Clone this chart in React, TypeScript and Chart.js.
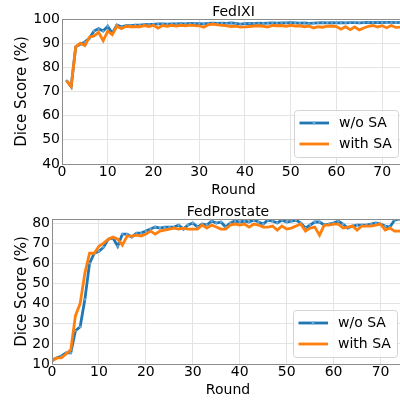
import React, { useEffect, useRef } from "react";
import { Chart, registerables } from "chart.js";

Chart.register(...registerables);
Chart.defaults.font.family = "'DejaVu Sans', sans-serif";

const ixiRounds = [
  1, 2, 3, 4, 5, 6, 7, 8, 9, 10, 11, 12, 13, 14, 15, 16, 17, 18, 19, 20,
  21, 22, 23, 24, 25, 26, 27, 28, 29, 30, 31, 32, 33, 34, 35, 36, 37, 38, 39, 40,
  41, 42, 43, 44, 45, 46, 47, 48, 49, 50, 51, 52, 53, 54, 55, 56, 57, 58, 59, 60,
  61, 62, 63, 64, 65, 66, 67, 68, 69, 70, 71, 72, 73, 74, 75,
];
const ixiWithoutSA = [
  74.5, 72.0, 88.5, 89.5, 90.5, 92.0, 95.0, 96.0, 95.0, 97.0,
  94.0, 97.5, 96.8, 97.3, 97.3, 97.5, 97.5, 97.7, 97.8, 97.8,
  98.0, 98.0, 97.9, 98.0, 98.0, 98.1, 98.0, 98.2, 98.1, 98.1,
  98.0, 98.2, 98.3, 98.2, 98.3, 98.2, 98.4, 98.2, 97.9, 98.1,
  98.2, 98.1, 98.3, 98.2, 98.3, 98.4, 98.3, 98.4, 98.4, 98.5,
  98.4, 98.3, 98.4, 98.2, 98.3, 98.4, 98.5, 98.4, 98.5, 98.4,
  98.5, 98.4, 98.5, 98.5, 98.4, 98.5, 98.6, 98.5, 98.6, 98.5,
  98.6, 98.6, 98.5, 98.6, 98.6,
];
const ixiWithSA = [
  74.5, 72.0, 88.5, 90.0, 89.0, 92.5, 93.0, 94.5, 91.0, 95.0,
  93.5, 97.0, 96.0, 97.0, 96.8, 96.9, 96.8, 97.3, 96.9, 97.4,
  96.2, 97.3, 97.0, 97.4, 97.1, 97.4, 97.2, 97.5, 97.3, 97.2,
  96.6, 97.6, 97.9, 97.6, 97.4, 97.2, 96.9, 97.0, 96.6, 96.7,
  96.9, 97.1, 97.2, 97.0, 96.7, 97.3, 97.2, 97.3, 97.0, 97.4,
  97.1, 97.2, 96.8, 97.1, 96.3, 96.8, 96.6, 97.0, 97.1, 96.9,
  95.8, 96.8, 95.6, 96.7, 95.5, 96.3, 97.0, 97.3, 96.7, 97.2,
  96.4, 97.3, 96.5, 96.6, 96.8,
];

const prostateRounds = [
  0, 1, 2, 3, 4, 5, 6, 7, 8, 9, 10, 11, 12, 13, 14, 15, 16, 17, 18, 19,
  20, 21, 22, 23, 24, 25, 26, 27, 28, 29, 30, 31, 32, 33, 34, 35, 36, 37, 38, 39,
  40, 41, 42, 43, 44, 45, 46, 47, 48, 49, 50, 51, 52, 53, 54, 55, 56, 57, 58, 59,
  60, 61, 62, 63, 64, 65, 66, 67, 68, 69, 70, 71, 72, 73, 74, 75,
];
const prostateWithoutSA = [
  12.0, 13.0, 14.0, 15.5, 15.5, 26.5, 28.5, 42.0, 60.0, 65.0,
  66.0, 68.0, 72.0, 72.5, 68.5, 74.5, 74.5, 73.0, 75.0, 75.0,
  76.0, 77.0, 78.0, 77.5, 78.0, 78.0, 78.0, 79.0, 77.0, 79.0,
  80.0, 78.0, 79.5, 79.0, 81.0, 80.0, 80.5, 78.0, 80.0, 81.0,
  80.5, 81.0, 80.5, 81.5, 80.5, 79.5, 81.5, 81.0, 80.0, 81.5,
  80.5, 81.0, 81.5, 80.0, 77.5, 79.0, 80.5, 80.5, 79.0, 79.5,
  80.0, 81.0, 79.5, 77.5, 78.5, 79.0, 79.0, 79.0, 79.5, 80.0,
  79.5, 78.5, 78.0, 81.5, 82.0, 82.0,
];
const prostateWithSA = [
  11.5, 13.0, 13.0, 15.0, 17.0, 34.0, 40.0, 55.0, 65.0, 65.0,
  68.5, 70.0, 72.0, 73.0, 72.0, 69.0, 73.5, 73.5, 74.0, 73.5,
  74.5, 76.0, 74.5, 76.0, 76.5, 77.0, 77.5, 77.0, 77.5, 77.0,
  77.0, 77.0, 79.0, 77.5, 79.0, 78.0, 77.0, 77.0, 79.0, 79.5,
  79.0, 79.5, 78.0, 79.5, 79.0, 78.0, 78.0, 78.5, 76.5, 78.5,
  77.0, 77.5, 78.5, 79.5, 76.0, 77.5, 78.0, 74.0, 79.0, 79.0,
  79.5, 79.5, 77.5, 78.0, 78.5, 76.5, 78.5, 78.5, 78.5, 79.0,
  79.5, 76.5, 77.5, 76.0, 76.0, 76.5,
];

const seriesLabels = ["w/o SA", "with SA"];
const seriesColors = ["#1f77b4", "#ff7f0e"];

const framePlugin = {
  id: "frame",
  afterDatasetsDraw(chart: any) {
    const { ctx, chartArea: a } = chart;
    ctx.save();
    ctx.strokeStyle = "#8c8c8c";
    ctx.lineWidth = 1;
    ctx.strokeRect(Math.round(a.left) + 0.5, Math.round(a.top) + 0.5, a.right - a.left, Math.round(a.bottom - a.top));
    ctx.restore();
  },
};

const legendPlugin = {
  id: "boxLegend",
  afterDraw(chart: any) {
    const { ctx, chartArea: a } = chart;
    const x0 = a.right - 111;
    const y0 = a.top + 91;
    ctx.save();
    ctx.beginPath();
    ctx.roundRect(x0 + 0.5, y0 + 0.5, 104, 47, 3);
    ctx.fillStyle = "rgba(255,255,255,0.8)";
    ctx.fill();
    ctx.strokeStyle = "#d4d4d4";
    ctx.lineWidth = 1;
    ctx.stroke();
    ctx.font = "14px 'DejaVu Sans'";
    ctx.textBaseline = "middle";
    ctx.textAlign = "left";
    chart.data.datasets.forEach((ds: any, i: number) => {
      const y = y0 + 13 + i * 21;
      ctx.strokeStyle = ds.borderColor;
      ctx.lineWidth = 2.8;
      ctx.beginPath();
      ctx.moveTo(x0 + 5.5, y);
      ctx.lineTo(x0 + 35, y);
      ctx.stroke();
      if (ds.pointRadius > 0) {
        ctx.fillStyle = ds.pointBackgroundColor;
        ctx.beginPath();
        ctx.arc(x0 + 20, y, 1.5, 0, Math.PI * 2);
        ctx.fill();
      }
      ctx.fillStyle = "#000";
      ctx.fillText(ds.label, x0 + 45, y + 0.5);
    });
    ctx.restore();
  },
};

function DiceChart(props: {
  rounds: number[];
  without: number[];
  withSA: number[];
  title: string;
  yMin: number;
  yMax: number;
  yAxisWidth: number;
  width: number;
  top: number;
}) {
  const ref = useRef<HTMLCanvasElement>(null);
  useEffect(() => {
    if (!ref.current) return;
    const grid = { color: "#e3e3e3", drawTicks: false, lineWidth: 1 };
    const chart = new Chart(ref.current, {
      type: "line",
      data: {
        datasets: [
          {
            label: seriesLabels[0],
            data: props.rounds.map((r, i) => ({ x: r, y: props.without[i] })),
            borderColor: seriesColors[0],
            backgroundColor: seriesColors[0],
            borderWidth: 2.8,
            pointRadius: 1.2,
            pointBackgroundColor: "#6aa6d6",
            pointBorderWidth: 0,
            tension: 0,
            order: 1,
          },
          {
            label: seriesLabels[1],
            data: props.rounds.map((r, i) => ({ x: r, y: props.withSA[i] })),
            borderColor: seriesColors[1],
            backgroundColor: seriesColors[1],
            borderWidth: 2.8,
            pointRadius: 0,
            tension: 0,
            order: 0,
          },
        ],
      },
      options: {
        responsive: false,
        animation: false,
        layout: { padding: 0 },
        plugins: {
          legend: { display: false },
          tooltip: { enabled: false },
          title: {
            display: true,
            text: props.title,
            color: "#000",
            font: { size: 14, weight: "normal", lineHeight: 1 },
            padding: { top: 5, bottom: 0 },
            fullSize: false,
          },
        },
        scales: {
          x: {
            type: "linear",
            min: 0,
            max: 75,
            ticks: {
              stepSize: 10,
              includeBounds: false,
              padding: 0,
              color: "#000",
              font: { size: 14 },
              maxRotation: 0,
            },
            grid,
            border: { display: false },
            title: {
              display: true,
              text: "Round",
              color: "#000",
              font: { size: 14 },
              padding: { top: 0, bottom: 1.6 },
            },
            afterFit: (s: any) => {
              s.height = 36;
            },
          },
          y: {
            min: props.yMin,
            max: props.yMax,
            ticks: {
              stepSize: 10,
              includeBounds: false,
              padding: 2,
              color: "#000",
              font: { size: 14 },
            },
            grid,
            border: { display: false },
            title: {
              display: true,
              text: "Dice Score (%)",
              color: "#000",
              font: { size: 15 },
              padding: { top: 12.7, bottom: 0 },
            },
            afterFit: (s: any) => {
              s.width = props.yAxisWidth;
            },
          },
        },
      } as any,
      plugins: [framePlugin, legendPlugin],
    });
    return () => chart.destroy();
  }, []);
  return (
    <canvas
      ref={ref}
      width={props.width}
      height={200}
      style={{ position: "absolute", left: 0, top: props.top, width: props.width, height: 200 }}
    />
  );
}

export default function App() {
  return (
    <div
      style={{
        position: "fixed",
        left: 0,
        top: 0,
        width: 400,
        height: 401,
        overflow: "hidden",
        background: "#fff",
      }}
    >
      <DiceChart
        rounds={ixiRounds}
        without={ixiWithoutSA}
        withSA={ixiWithSA}
        title="FedIXI"
        yMin={40}
        yMax={100}
        yAxisWidth={62}
        width={409}
        top={0}
      />
      <DiceChart
        rounds={prostateRounds}
        without={prostateWithoutSA}
        withSA={prostateWithSA}
        title="FedProstate"
        yMin={10}
        yMax={82}
        yAxisWidth={52}
        width={408}
        top={200}
      />
    </div>
  );
}
